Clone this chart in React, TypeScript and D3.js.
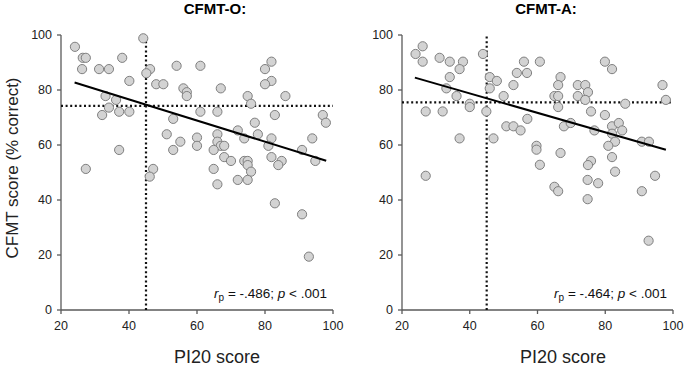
import React from 'react';
import * as d3 from 'd3';

// PI20 score vs CFMT score
const cfmtO: [number, number][] = [
  [24.1, 95.7], [44.2, 98.8], [26.4, 91.7], [27.3, 91.7], [38.0, 91.7], [26.2, 87.6], [31.2, 87.6],
  [34.1, 87.6], [54.0, 88.8], [61.0, 88.8], [46.2, 87.6], [45.1, 86.1], [40.1, 83.3], [48.0, 82.1],
  [50.1, 82.1], [56.0, 80.6], [57.0, 79.2], [57.0, 77.8], [67.0, 80.6], [33.1, 77.8], [36.2, 76.4],
  [34.1, 73.6], [32.1, 70.9], [37.1, 72.1], [40.1, 72.1], [61.0, 72.1], [66.0, 72.1], [53.0, 69.5],
  [51.1, 63.9], [55.1, 61.2], [60.0, 62.7], [60.0, 59.7], [66.0, 63.9], [66.0, 61.2], [67.0, 59.7],
  [68.0, 59.7], [64.9, 58.2], [53.0, 58.2], [37.1, 58.2], [68.0, 55.6], [70.0, 54.2], [72.0, 65.3],
  [27.3, 51.3], [47.1, 51.3], [64.9, 51.3], [46.1, 48.5], [66.0, 45.7], [72.0, 47.3], [81.9, 90.3],
  [80.0, 87.6], [81.9, 83.3], [80.0, 82.1], [74.9, 77.8], [75.9, 75.0], [86.0, 77.8], [82.9, 70.9],
  [97.0, 70.9], [97.9, 68.1], [77.0, 68.1], [77.9, 63.9], [73.9, 62.4], [81.9, 62.4], [93.9, 62.4],
  [81.0, 59.7], [90.9, 58.2], [81.9, 55.6], [73.9, 54.2], [74.9, 54.2], [74.9, 52.7], [75.9, 50.3],
  [84.9, 54.2], [83.9, 52.7], [94.8, 54.2], [74.9, 47.3], [82.9, 38.8], [90.9, 34.8], [92.9, 19.4],
];

const cfmtA: [number, number][] = [
  [24.0, 93.1], [26.1, 95.9], [26.1, 90.3], [31.1, 91.7], [34.1, 90.3], [38.0, 90.3], [37.0, 87.6],
  [34.1, 84.7], [33.1, 80.6], [36.1, 77.8], [40.0, 75.0], [40.0, 73.8], [27.0, 72.2], [32.0, 72.2],
  [43.9, 93.1], [44.9, 72.2], [45.9, 84.7], [45.9, 80.6], [48.0, 83.3], [50.0, 77.8], [52.9, 81.8],
  [53.9, 86.2], [56.0, 90.3], [56.9, 86.2], [60.7, 90.3], [57.0, 69.5], [50.8, 66.8], [52.9, 66.8],
  [55.0, 65.3], [37.0, 62.4], [47.0, 62.4], [59.7, 59.7], [59.7, 58.3], [60.7, 52.8], [27.0, 48.8],
  [79.9, 90.3], [82.0, 87.6], [66.8, 84.7], [66.1, 81.8], [71.9, 81.8], [74.1, 81.8], [74.9, 79.2],
  [65.0, 77.8], [66.1, 77.8], [71.9, 77.8], [74.1, 76.4], [66.1, 73.8], [85.9, 75.0], [96.9, 81.8],
  [97.9, 76.4], [75.8, 72.2], [79.9, 70.9], [67.8, 66.8], [69.8, 68.0], [76.8, 65.3], [82.0, 66.8],
  [84.0, 68.0], [85.0, 65.3], [82.0, 64.1], [82.9, 61.2], [80.9, 59.7], [90.8, 61.2], [92.9, 61.2],
  [66.8, 57.1], [75.8, 54.2], [74.9, 52.7], [82.0, 55.6], [82.9, 50.3], [94.7, 48.8], [65.0, 44.8],
  [66.1, 43.2], [74.8, 47.3], [77.9, 46.1], [74.8, 40.3], [90.8, 43.2], [92.8, 25.2],
];

// regression line endpoints [x0, y0, x1, y1]
const fitO = [24, 82.7, 98, 54.3];
const fitA = [23.8, 84.5, 97.9, 58.3];

// dotted cut-offs: PI20 = 45, CFMT mean line
const cutX = [45, 45];
const cutY = [74.2, 75.5];

const titles = ['CFMT-O:', 'CFMT-A:'];
const stats = [['-.486', '.001'], ['-.464', '.001']];
const xTicks = [20, 40, 60, 80, 100];
const yTicks = [0, 20, 40, 60, 80, 100];

const font = '"Liberation Sans", Arial, sans-serif';
const axisColor = '#5a5a5a';

type PanelProps = {
  data: [number, number][];
  fit: number[];
  cx: number;
  cy: number;
  title: string;
  stat: string[];
  left: number;
  right: number;
  titleX: number;
  labelX: number;
};

const Panel: React.FC<PanelProps> = ({ data, fit, cx, cy, title, stat, left, right, titleX, labelX }) => {
  const top = 35;
  const bottom = 310;
  const x = d3.scaleLinear().domain([20, 100]).range([left, right]);
  const y = d3.scaleLinear().domain([0, 100]).range([bottom, top]);
  const line = d3.line<number[]>().x((d) => x(d[0])).y((d) => y(d[1]));

  return (
    <g>
      <text x={titleX} y={14} textAnchor="middle" fontFamily={font} fontSize={15} fontWeight="bold">
        {title}
      </text>

      {/* axes */}
      <line x1={left} x2={left} y1={top} y2={bottom} stroke={axisColor} strokeWidth={1.3} />
      <line x1={left} x2={right} y1={bottom} y2={bottom} stroke={axisColor} strokeWidth={1.3} />
      {yTicks.map((t) => (
        <g key={'y' + t}>
          <line x1={left - 4} x2={left} y1={y(t)} y2={y(t)} stroke={axisColor} strokeWidth={1.3} />
          <text x={left - 9} y={y(t)} dy="0.35em" textAnchor="end" fontFamily={font} fontSize={12.5} fill="#222">
            {t}
          </text>
        </g>
      ))}
      {xTicks.map((t) => (
        <g key={'x' + t}>
          <line x1={x(t)} x2={x(t)} y1={bottom} y2={bottom + 4} stroke={axisColor} strokeWidth={1.3} />
          <text x={x(t)} y={bottom + 20} textAnchor="middle" fontFamily={font} fontSize={12.5} fill="#222">
            {t}
          </text>
        </g>
      ))}
      <text x={labelX} y={363} textAnchor="middle" fontFamily={font} fontSize={18} fill="#222">
        PI20 score
      </text>

      {/* cut-off lines */}
      <line x1={x(cx)} x2={x(cx)} y1={y(0)} y2={y(100)} stroke="#111" strokeWidth={2.2} strokeDasharray="2,2.6" />
      <line x1={x(20)} x2={x(100)} y1={y(cy)} y2={y(cy)} stroke="#111" strokeWidth={2.2} strokeDasharray="2,2.6" />

      {data.map((d, i) => (
        <circle key={i} cx={x(d[0])} cy={y(d[1])} r={4.6} fill="#d3d3d3" stroke="#7f7f7f" strokeWidth={1} />
      ))}

      <path d={line([[fit[0], fit[1]], [fit[2], fit[3]]])!} stroke="#000" strokeWidth={2} fill="none" />

      <text x={right - 6} y={298} textAnchor="end" fontFamily={font} fontSize={13.5} fill="#111">
        <tspan fontStyle="italic">r</tspan>
        <tspan fontSize={10} dy={3}>p</tspan>
        <tspan dy={-3}>{` = ${stat[0]}; `}</tspan>
        <tspan fontStyle="italic">p</tspan>
        <tspan>{` < ${stat[1]}`}</tspan>
      </text>
    </g>
  );
};

export default function App() {
  return (
    <svg
      width={685}
      height={367}
      style={{ position: 'absolute', left: 0, top: 0, background: '#fff' }}
    >
      <rect width={685} height={367} fill="#fff" />
      <text
        transform="translate(18,168) rotate(-90)"
        textAnchor="middle"
        fontFamily={font}
        fontSize={17}
        fill="#222"
      >
        CFMT score (% correct)
      </text>
      <Panel data={cfmtO} fit={fitO} cx={cutX[0]} cy={cutY[0]} title={titles[0]} stat={stats[0]}
        left={61} right={333} titleX={215} labelX={217} />
      <Panel data={cfmtA} fit={fitA} cx={cutX[1]} cy={cutY[1]} title={titles[1]} stat={stats[1]}
        left={402} right={673} titleX={546} labelX={563} />
    </svg>
  );
}
